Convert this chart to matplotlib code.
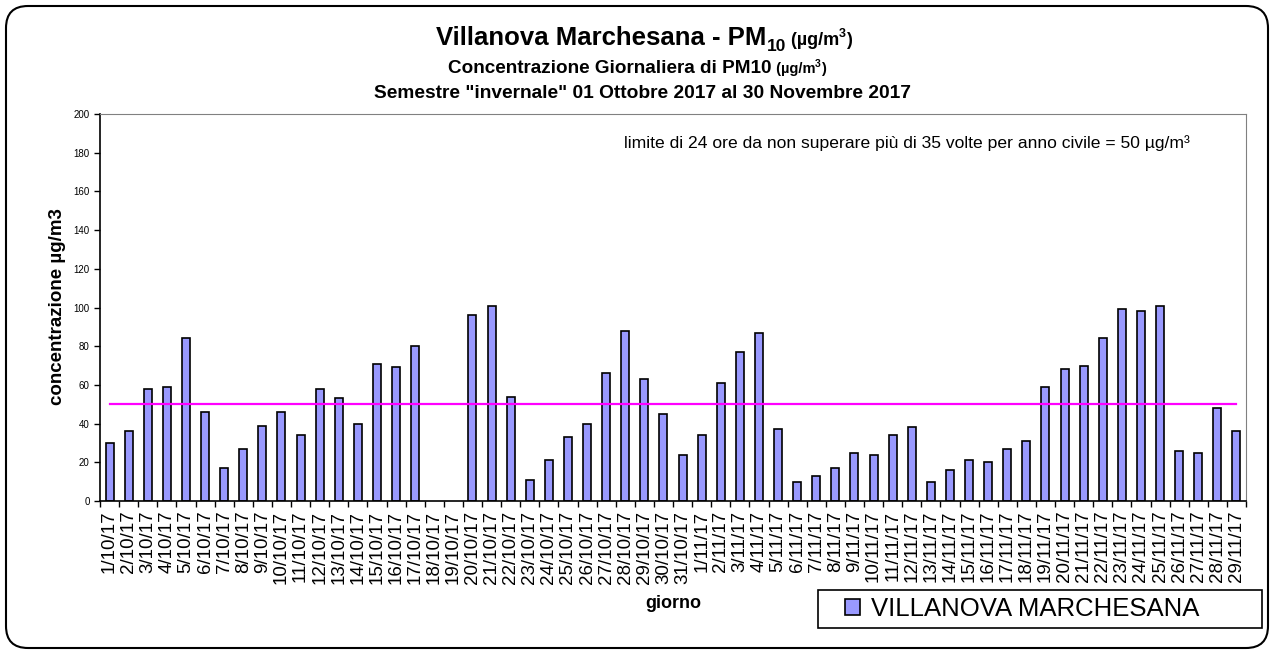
import numpy as np
import matplotlib
matplotlib.use("Agg")
import matplotlib.pyplot as plt
from matplotlib.patches import FancyBboxPatch, Rectangle
from matplotlib.transforms import IdentityTransform

plt.rcParams['font.family'] = ['Liberation Sans', 'DejaVu Sans']

# dati giornalieri PM10 (ug/m3), 18 e 19 ottobre mancanti
giorni = [str(d) + "/10/17" for d in range(1, 32)] + [str(d) + "/11/17" for d in range(1, 30)]
ottobre = [30, 36, 58, 59, 84, 46, 17, 27, 39, 46, 34, 58, 53, 40, 71, 69, 80, np.nan, np.nan,
           96, 101, 54, 11, 21, 33, 40, 66, 88, 63, 45, 24]
novembre = [34, 61, 77, 87, 37, 10, 13, 17, 25, 24, 34, 38, 10, 16, 21, 20, 27, 31, 59, 68,
            70, 84, 99, 98, 101, 26, 25, 48, 36]
valori = ottobre + novembre
limite = 50
yticks = [0, 20, 40, 60, 80, 100, 120, 140, 160, 180, 200]

W, H = 1273, 652
fig = plt.figure(figsize=(W / 100, H / 100), dpi=100)
ax = fig.add_axes([100 / W, 1 - 501 / H, (1246 - 100) / W, (501 - 114) / H])

x = np.arange(len(valori))
barre = ax.bar(x, valori, width=0.42, color='#9999FF', edgecolor='black', linewidth=1.2,
               label='VILLANOVA MARCHESANA', zorder=2)
ax.plot(x, [limite] * len(x), color='#FF00FF', linewidth=1.6, zorder=3)

ax.set_xlim(-0.5, len(x) - 0.5)
ax.set_ylim(0, 200)
ax.set_yticks(yticks)
ax.tick_params(axis='y', labelsize=7, length=4, width=1, direction='out')
ax.set_xticks(np.arange(len(x) + 1) - 0.5)
ax.set_xticklabels([])
ax.set_xticks(x, minor=True)
ax.set_xticklabels(giorni, minor=True, rotation=90, fontsize=13.5)
ax.tick_params(axis='x', which='major', length=4, width=1)
ax.tick_params(axis='x', which='minor', length=0, pad=7)
for s in ['top', 'right']:
    ax.spines[s].set_color('#808080')
for s in ['left', 'bottom']:
    ax.spines[s].set_color('black')
    ax.spines[s].set_linewidth(1.2)

ax.text(0.951, 0.925, "limite di 24 ore da non superare più di 35 volte per anno civile = 50 µg/m³",
        transform=ax.transAxes, ha='right', va='center', fontsize=12.6)

fig.text(58 / W, 1 - 307 / H, "concentrazione µg/m3", rotation=90, ha='center', va='center',
         fontsize=13.5, fontweight='bold')
fig.text(673 / W, 1 - 603 / H, "giorno", ha='center', va='center', fontsize=13, fontweight='bold')

# titoli composti a pezzi (pedici e apici)
renderer = fig.canvas.get_renderer()


def riga(parti, xc, yb):
    testi = []
    xx = 0
    for s, fs, dy in parti:
        t = fig.text(xx, H - yb + dy, s, transform=IdentityTransform(), fontsize=fs,
                     fontweight='bold', ha='left', va='baseline')
        xx = t.get_window_extent(renderer).x1
        testi.append(t)
    x0 = xc - xx / 2
    for t in testi:
        t.set_x(t.get_position()[0] + x0)


riga([("Villanova Marchesana - PM", 18.5, 0), ("10", 12.5, -6), (" (µg/m", 13, 0), ("3", 9, 8), (")", 13, 0)],
     644, 45)
riga([("Concentrazione Giornaliera di PM10", 13.6, 0), (" (µg/m", 10.5, 0), ("3", 7.5, 6), (")", 10.5, 0)],
     637, 73)
riga([('Semestre "invernale" 01 Ottobre 2017 al 30 Novembre 2017', 13.8, 0)], 643, 98)

# legenda
fig.add_artist(Rectangle((818, H - 628), 1262 - 818, 38, transform=IdentityTransform(),
                         facecolor='white', edgecolor='black', linewidth=1.2))
fig.legend(handles=[barre], loc='center', bbox_to_anchor=(1022 / W, 1 - 609 / H),
           frameon=False, fontsize=18.5, handlelength=0.6, handleheight=0.6, handletextpad=0.4)

# cornice arrotondata
fig.add_artist(FancyBboxPatch((6, 4), 1262, 642, boxstyle='round,pad=0,rounding_size=22',
                              transform=IdentityTransform(), facecolor='none', edgecolor='black',
                              linewidth=1.5, clip_on=False))

fig.savefig("out.png", dpi=100)
